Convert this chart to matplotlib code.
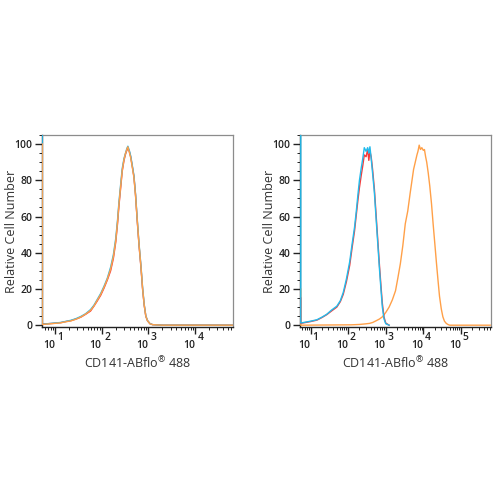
import math
import matplotlib
matplotlib.use("Agg")
import matplotlib.pyplot as plt
import matplotlib.transforms as mtransforms
from matplotlib.ticker import LogLocator, MultipleLocator, NullFormatter

plt.rcParams['font.family'] = ['Open Sans', 'DejaVu Sans']
plt.rcParams['mathtext.fontset'] = 'custom'
plt.rcParams['mathtext.rm'] = 'Open Sans'

# left panel: three near-identical histograms (fluorescence intensity, % max)
left_x = [5.3, 5.3, 9.0, 13.2, 17.0, 21.9, 28.0, 35.5, 45.0, 57.5, 68.0, 79.4, 95.0, 112, 132, 155, 178,
          200, 218, 234, 255, 275, 300, 324, 345, 363, 390, 417, 450, 490, 530, 575, 630, 692, 750,
          813, 880, 955, 1080, 1230, 2000, 65000]
left_red = [100, 0.6, 1.0, 1.4, 2.0, 2.5, 3.4, 4.4, 6.0, 7.8, 10.5, 13.2, 16.5, 20.5, 25.0, 30.0, 37.0,
            46.0, 56.0, 66.0, 76.0, 85.0, 91.0, 94.5, 96.5, 97.5, 96.0, 93.0, 88.0, 82.0, 72.0, 58.0, 44.0,
            32.0, 20.0, 11.0, 5.0, 2.5, 0.8, 0.3, 0.0, 0.0]
left_blue = [110, 0.5, 1.1, 1.5, 2.1, 2.7, 3.6, 4.8, 6.3, 8.6, 11.0, 14.0, 17.5, 21.5, 26.0, 32.0, 39.0,
             48.0, 58.0, 68.0, 78.0, 86.5, 92.0, 95.0, 97.5, 98.8, 96.5, 93.5, 88.5, 82.5, 72.5, 59.0, 45.0,
             33.0, 21.0, 11.5, 5.2, 2.6, 0.9, 0.3, 0.0, 0.0]
left_orange = [100, 0.4, 0.9, 1.3, 1.9, 2.4, 3.3, 4.5, 6.1, 8.2, 10.6, 13.6, 17.0, 21.0, 25.5, 31.0, 38.0,
               47.0, 57.0, 67.0, 77.0, 85.5, 91.5, 95.0, 97.0, 98.5, 95.5, 92.5, 87.5, 81.5, 71.5, 58.5, 44.5,
               32.5, 20.5, 11.2, 5.0, 2.5, 0.8, 0.3, 0.0, 0.0]

# right panel: two controls (red, blue) and stained sample (orange)
right_x = [5.5, 5.5, 10.0, 14.8, 20.0, 26.9, 36.0, 50.1, 62.0, 74.1, 90.0, 110, 128, 148, 165, 182, 200,
           224, 245, 269, 300, 331, 355, 380, 410, 447, 500, 550, 610, 676, 745, 813, 900, 1000, 1230]
right_red = [15, 1.0, 2.0, 2.8, 4.2, 5.8, 7.8, 10.0, 13.0, 17.0, 24.0, 33.0, 43.0, 52.0, 61.0, 69.0, 76.0,
             83.0, 88.0, 94.0, 93.0, 97.0, 91.0, 96.0, 93.0, 86.0, 75.0, 62.0, 48.0, 34.0, 22.0, 12.0, 4.5,
             1.2, 0.0]
right_blue = [110, 1.2, 2.2, 3.0, 4.4, 6.0, 8.3, 10.5, 13.5, 18.0, 25.5, 35.0, 45.0, 54.0, 63.0, 72.0, 80.0,
              87.0, 92.0, 98.0, 96.0, 98.0, 95.0, 98.5, 92.0, 84.0, 73.0, 60.0, 46.0, 32.0, 20.0, 10.0, 3.5,
              0.8, 0.0]
orange_x = [5.5, 5.5, 120, 200, 280, 372, 450, 550, 680, 813, 1000, 1230, 1500, 1820, 2100, 2450, 2850,
            3310, 3850, 4470, 5000, 5500, 6100, 6760, 7200, 7760, 8400, 9120, 10000, 10700, 11500, 12300,
            13500, 14800, 16500, 18200, 20200, 22400, 24500, 26900, 30000, 33100, 36500, 40700, 45000,
            50100, 600000]
orange_y = [20, 0.0, 0.2, 0.4, 0.7, 1.0, 1.5, 2.4, 3.4, 4.6, 7.0, 10.0, 14.0, 19.0, 26.0, 34.0, 44.0,
            56.0, 63.0, 73.0, 80.0, 86.0, 90.0, 94.0, 96.0, 99.4, 97.0, 98.0, 96.5, 97.0, 93.0, 90.0,
            84.0, 77.0, 67.0, 56.0, 45.0, 34.0, 25.0, 16.0, 9.0, 4.6, 2.2, 1.0, 0.4, 0.0, 0.0]

left_decades = [1, 2, 3, 4]
right_decades = [1, 2, 3, 4, 5]

red = '#f53a3a'
blue = '#22bbec'
orange = '#ffa048'
ink = '#222222'


def style_axis(ax, xmax, decades):
    ax.set_xscale('log')
    ax.set_xlim(5.25, xmax)
    ax.set_ylim(-1, 105)
    ax.xaxis.set_major_locator(LogLocator(base=10, numticks=10))
    ax.xaxis.set_minor_locator(LogLocator(base=10, subs=range(2, 10), numticks=10))
    ax.xaxis.set_minor_formatter(NullFormatter())
    ax.xaxis.set_major_formatter(NullFormatter())
    ax.yaxis.set_major_locator(MultipleLocator(20))
    ax.yaxis.set_minor_locator(MultipleLocator(5))
    for s in ['top', 'right']:
        ax.spines[s].set_color('#8c8c8c')
        ax.spines[s].set_linewidth(0.9)
    for s in ['left', 'bottom']:
        ax.spines[s].set_color(ink)
        ax.spines[s].set_linewidth(1.0)
    ax.tick_params(axis='both', which='major', length=5, width=1.0, color=ink,
                   labelsize=7.5, labelcolor=ink)
    ax.tick_params(axis='both', which='minor', length=2.5, width=0.7, color=ink)
    ax.tick_params(axis='y', which='major', pad=2)
    for lab in ax.get_yticklabels():
        lab.set_fontweight('semibold')

    # decade labels: "10" with a raised exponent of the same size
    trans = mtransforms.blended_transform_factory(ax.transData, ax.transAxes)
    for d in decades:
        ax.text(10 ** d, -0.095, '10', transform=trans, ha='right', va='center',
                fontsize=7.5, fontweight='semibold', color=ink)
        ax.text(10 ** d * 1.12, -0.055, str(d), transform=trans, ha='left', va='center',
                fontsize=7.5, fontweight='semibold', color=ink)

    ax.set_ylabel('Relative Cell Number', fontsize=9, color='#333333')
    ax.yaxis.set_label_coords(-0.128, 0.5)
    ax.set_xlabel(r'CD141-ABflo$^{\mathregular{®}}$ 488', fontsize=9, color='#333333')
    ax.xaxis.set_label_coords(0.5, -0.148)


fig = plt.figure(figsize=(5, 5), dpi=100)
ax1 = fig.add_axes([0.084, 0.346, 0.382, 0.384])
ax2 = fig.add_axes([0.600, 0.346, 0.382, 0.384])

ax1.plot(left_x, left_red, color=red, lw=1.0, zorder=3)
ax1.plot(left_x, left_blue, color=blue, lw=1.0, zorder=3)
ax1.plot(left_x, left_orange, color=orange, lw=1.0, zorder=3)
style_axis(ax1, 65000, left_decades)

ax2.plot(orange_x, orange_y, color=orange, lw=1.0, zorder=3)
ax2.plot(right_x, right_red, color=red, lw=1.0, zorder=3)
ax2.plot(right_x, right_blue, color=blue, lw=1.0, zorder=3)
style_axis(ax2, 630000, right_decades)

fig.savefig('out.png', dpi=100)
